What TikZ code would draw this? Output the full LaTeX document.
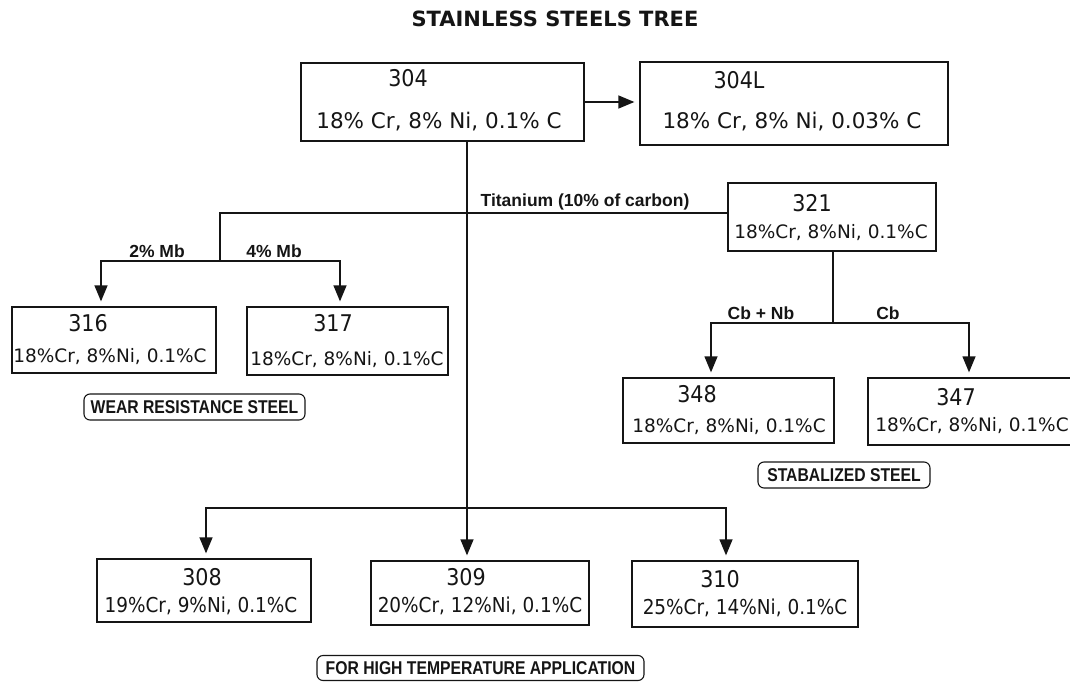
\documentclass[tikz,border=0pt]{standalone}
\usepackage{fontspec}
\setmainfont{DejaVu Sans}
\newfontfamily\cond{DejaVu Sans Condensed}
\newfontfamily\arial{Liberation Sans}
\newfontfamily\arialc[FakeStretch=0.85]{Liberation Sans}
\usetikzlibrary{arrows.meta,positioning}
\definecolor{negro}{HTML}{151515}
\definecolor{fondo}{HTML}{FFFFFF}

\begin{document}
\begin{tikzpicture}[x=1pt,y=-1pt,
  caja/.style={draw=negro,line width=1.3pt,inner sep=0pt,fill=fondo},
  num/.style={font=\cond\fontsize{23}{24}\selectfont,text=negro,inner sep=0pt},
  comp/.style={font=\fontsize{18.5}{20}\selectfont,text=negro,inner sep=0pt},
  compc/.style={font=\cond\fontsize{20.5}{22}\selectfont,text=negro,inner sep=0pt},
  etiq/.style={font=\arial\bfseries\fontsize{17.5}{18}\selectfont,text=negro,inner sep=0pt},
  rotulo/.style={draw=negro,line width=1.1pt,rounded corners=6pt,inner sep=0pt,
    font=\arialc\bfseries\fontsize{18.5}{19}\selectfont,text=negro},
  linea/.style={draw=negro,line width=1.3pt},
  flecha/.style={linea,-{Triangle[length=16pt,width=13pt]},shorten >=5pt}]

\useasboundingbox[fill=fondo] (0,0) rectangle (1070,682);

\node[font=\bfseries\fontsize{21}{22}\selectfont,text=negro] (titulo) at (555,19) {STAINLESS STEELS TREE};

% cajas
\foreach \n/\x/\y/\w/\h in {304/442.5/102/283/78, 304L/794/103.5/308/83, 321/832/217/208/68,
  316/114/340/204/66, 317/347.5/341/201/68, 348/728.5/410.5/211/65, 347/970/411.5/204/67,
  308/204/590.5/214/63, 309/480/593/218/64, 310/745/594/226/66}
  \node[caja,minimum width=\w pt,minimum height=\h pt] (b\n) at (\x,\y) {};

% numeros
\foreach \n/\x/\y in {304/408/78, 304L/739/80, 321/812/203, 316/88/323, 317/333/323,
  348/697/394, 347/956/397, 308/202/577, 309/466/577, 310/720/579}
  \node[num] (n\n) at (\x,\y) {\n};

% composicion
\node[font=\fontsize{21.5}{23}\selectfont,text=negro,inner sep=0pt] (c304) at (439,122) {18\% Cr, 8\% Ni, 0.1\% C};
\node[font=\fontsize{21.5}{23}\selectfont,text=negro,inner sep=0pt] (c304L) at (792,122) {18\% Cr, 8\% Ni, 0.03\% C};
\foreach \n/\x/\y in {321/831/233, 316/110/357, 317/347/360, 348/729/427, 347/972/426}
  \node[comp] (c\n) at (\x,\y) {18\%Cr, 8\%Ni, 0.1\%C};
\node[compc] (c308) at (201,606) {19\%Cr, 9\%Ni, 0.1\%C};
\node[compc] (c309) at (480,606) {20\%Cr, 12\%Ni, 0.1\%C};
\node[compc] (c310) at (745,608) {25\%Cr, 14\%Ni, 0.1\%C};

% rotulos
\node[rotulo,minimum width=221pt,minimum height=26pt] (r1) at (194.5,407) {WEAR RESISTANCE STEEL};
\node[rotulo,minimum width=172pt,minimum height=26pt] (r2) at (844,475) {STABALIZED STEEL};
\node[rotulo,minimum width=327pt,minimum height=25pt] (r3) at (480.5,668) {FOR HIGH TEMPERATURE APPLICATION};

% uniones
\coordinate (mo) at (220,213);
\coordinate (mb) at (220,261);
\coordinate (cb) at (833,323);
\coordinate (tr) at (467,508);

\draw[flecha] (b304.east) -- (b304.east -| b304L.west);
\draw[flecha] ([xshift=24.5pt]b304.south) -- ([xshift=-13pt]b309.north);
\draw[linea] (b321.west |- mo) -- (mo) -- (mb);
\draw[flecha] (mb) -| ([xshift=-13pt]b316.north);
\draw[flecha] (mb) -| ([xshift=-7.5pt]b317.north);
\draw[linea] (b321.south -| cb) -- (cb);
\draw[flecha] (cb) -| ([xshift=-17.5pt]b348.north);
\draw[flecha] (cb) -| ([xshift=-1pt]b347.north);
\draw[flecha] (tr) -| ([xshift=2pt]b308.north);
\draw[flecha] (tr) -| ([xshift=-19pt]b310.north);

% etiquetas
\node[etiq] (lti) at (585,202) {Titanium (10\% of carbon)};
\node[etiq] (l2) at (157,251) {2\% Mb};
\node[etiq] (l4) at (274,251) {4\% Mb};
\node[etiq] (lcn) at (761,313) {Cb + Nb};
\node[etiq] (lcb) at (888,313) {Cb};

\end{tikzpicture}
\end{document}
